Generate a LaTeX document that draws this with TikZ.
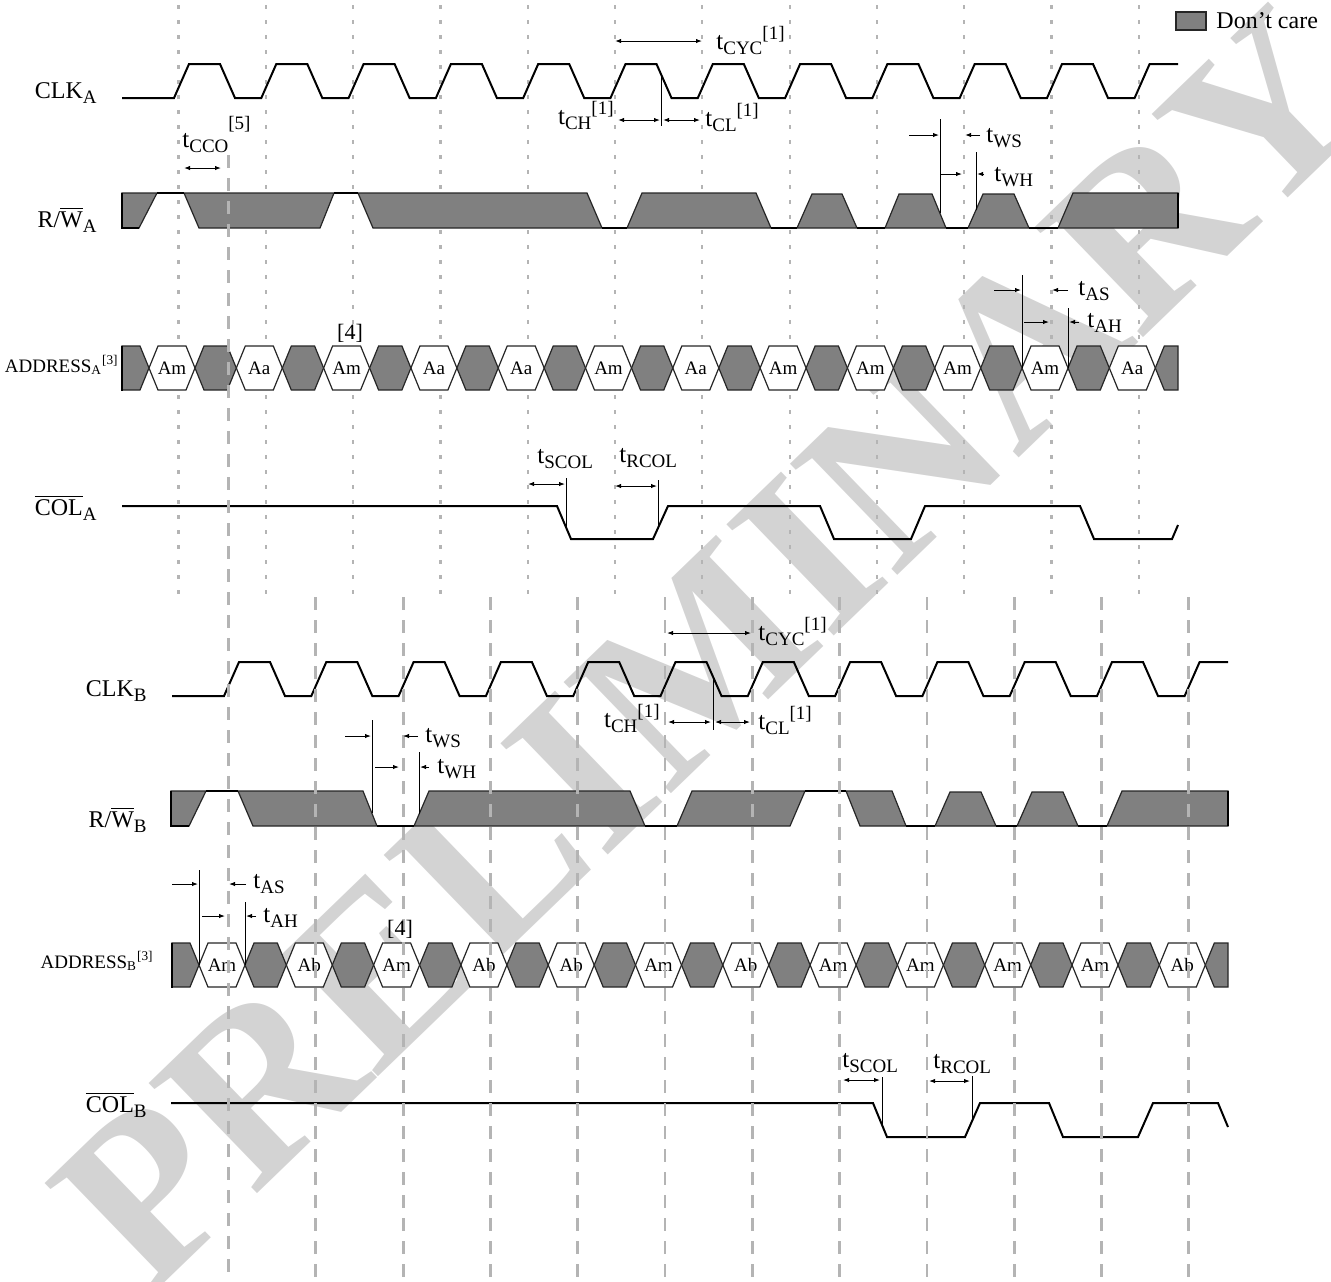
\documentclass[tikz,border=0pt]{standalone}
\usepackage{fontspec}
\setmainfont{Liberation Serif}
\usetikzlibrary{arrows.meta}
\definecolor{DCGray}{HTML}{808080}
\definecolor{GridGray}{HTML}{B4B4B4}
\definecolor{WMGray}{HTML}{D3D3D3}
\newcommand{\lsub}[1]{\raisebox{-0.5ex}{\fontsize{9.5}{10}\selectfont #1}}
\newcommand{\lsup}[1]{\raisebox{0.8ex}{\fontsize{9.5}{10}\selectfont #1}}
\newcommand{\tlab}[2]{t\lsub{#1}\lsup{#2}}

\begin{document}
\begin{tikzpicture}[
				x=0.5pt, y=-0.5pt,
				sig/.style={line width=1pt, line join=miter},
				dc/.style={fill=DCGray, draw=black!85, line width=0.6pt},
				hexa/.style={fill=white, draw=black!85, line width=0.6pt},
				refline/.style={line width=0.5pt},
				dim/.style={{Latex[length=3pt,width=2.2pt]}-{Latex[length=3pt,width=2.2pt]}, line width=0.5pt},
				toarr/.style={-{Latex[length=3pt,width=2.2pt]}, line width=0.5pt},
				dotgrid/.style={GridGray, line width=1.1pt, dash pattern=on 2pt off 5.5pt},
				dashgrid/.style={GridGray, line width=1.4pt, dash pattern=on 6.5pt off 5pt},
				siglabel/.style={anchor=base east, inner sep=0pt, font=\fontsize{12}{14}\selectfont},
				tlabel/.style={anchor=base west, inner sep=0pt, font=\fontsize{12.5}{14}\selectfont},
				hexlabel/.style={inner sep=0pt, font=\fontsize{9.5}{11}\selectfont}
				]
				\useasboundingbox (0,0) rectangle (1331,1281);
				% watermark
				\node[rotate=44, text=WMGray, inner sep=0pt, font=\fontsize{118}{118}\selectfont\bfseries] (wmark) at (710,648) {PRELIMINARY};
				% clock grid of port A
				\foreach \k in {0,...,11}
					\draw[dotgrid] ({178.5+87.3*\k},5) -- ({178.5+87.3*\k},597);
				% clocks
				\foreach \dx/\dy in {0/0, 50/598} {
					\begin{scope}[shift={(\dx,\dy)}]
						\draw[sig] (122,98) \foreach \k in {0,...,10} { -- ({174+87.3*\k},98) -- ({189+87.3*\k},64) -- ({220+87.3*\k},64) -- ({235+87.3*\k},98) } -- (1134.6,98) -- (1149.6,64) -- (1178,64);
					\end{scope}
				}
				% addresses
				\foreach \dx/\dy/\oth in {0/0/Aa, 50/597/Ab} {
					\begin{scope}[shift={(\dx,\dy)}]
						\draw[dc] (122,346) -- (140,346) -- (149,368) -- (140,390) -- (122,390) -- cycle;
						\draw[line width=1pt] (122,345.5) -- (122,390.5);
						\foreach \k/\lab in {0/Am,1/\oth,2/Am,3/\oth,4/\oth,5/Am,6/\oth,7/Am,8/Am,9/Am,10/Am,11/\oth} {
							\pgfmathsetmacro\xa{149+87.3*\k}
							\draw[hexa] (\xa,368) -- ++(9,-22) -- ++(28,0) -- ++(9,22) -- ++(-9,22) -- ++(-28,0) -- cycle;
							\node[hexlabel] (hex\oth\k) at ({\xa+23},368) {\lab};
						}
						\foreach \k in {0,...,10} {
							\pgfmathsetmacro\xb{195+87.3*\k}
							\draw[dc] (\xb,368) -- ++(9,-22) -- ++(23.3,0) -- ++(9,22) -- ++(-9,22) -- ++(-23.3,0) -- cycle;
						}
						\draw[dc] (1155.3,368) -- (1164.3,346) -- (1178,346) -- (1178,390) -- (1164.3,390) -- cycle;
					\end{scope}
				}
				% R/W A
				\draw[dc] (122,193) -- (157,193) -- (139,228) -- (122,228) -- cycle;
				\draw[dc] (184,193) -- (334,193) -- (320,228) -- (199,228) -- cycle;
				\draw[dc] (358,193) -- (587,193) -- (602,228) -- (373,228) -- cycle;
				\draw[dc] (627,228) -- (642,193) -- (756,193) -- (771,228) -- cycle;
				\draw[dc] (797,228) -- (812,194) -- (842,194) -- (857,228) -- cycle;
				\draw[dc] (885,228) -- (899,194) -- (932,194) -- (946,228) -- cycle;
				\draw[dc] (968,228) -- (983,194) -- (1014,194) -- (1029,228) -- cycle;
				\draw[dc] (1058,228) -- (1073,193) -- (1178,193) -- (1178,228) -- cycle;
				\draw[sig] (139,228) -- (122,228) -- (122,193);
				\draw[sig] (157,193) -- (184,193) (334,193) -- (358,193);
				\draw[sig] (602,228) -- (627,228) (771,228) -- (797,228) (857,228) -- (885,228) (946,228) -- (968,228) (1029,228) -- (1058,228);
				\draw[sig] (1178,193) -- (1178,228);
				% R/W B
				\draw[dc] (171,791) -- (206,791) -- (189,826) -- (171,826) -- cycle;
				\draw[dc] (238,791) -- (363,791) -- (377,826) -- (253,826) -- cycle;
				\draw[dc] (414,826) -- (429,791) -- (630,791) -- (645,826) -- cycle;
				\draw[dc] (677,826) -- (692,791) -- (805,791) -- (790,826) -- cycle;
				\draw[dc] (846,791) -- (892,791) -- (906,826) -- (860,826) -- cycle;
				\draw[dc] (935,826) -- (950,792) -- (981,792) -- (996,826) -- cycle;
				\draw[dc] (1017,826) -- (1032,792) -- (1063,792) -- (1078,826) -- cycle;
				\draw[dc] (1107,826) -- (1122,791) -- (1228,791) -- (1228,826) -- cycle;
				\draw[sig] (189,826) -- (171,826) -- (171,791);
				\draw[sig] (206,791) -- (238,791) (805,791) -- (846,791);
				\draw[sig] (377,826) -- (414,826) (645,826) -- (677,826) (906,826) -- (935,826) (996,826) -- (1017,826) (1078,826) -- (1107,826);
				\draw[sig] (1228,791) -- (1228,826);
				% COL
				\draw[sig] (122,506) -- (557,506) -- (571,539) -- (653,539) -- (668,506) -- (820,506) -- (834,539) -- (911,539) -- (925,506) -- (1080,506) -- (1094,539) -- (1172,539) -- (1178,525);
				\draw[sig] (171,1103) -- (873,1103) -- (887,1137) -- (965,1137) -- (980,1103) -- (1049,1103) -- (1063,1137) -- (1138,1137) -- (1153,1103) -- (1218,1103) -- (1228,1127);
				% clock grid of port B
				\draw[dashgrid] (228.5,155) -- (228.5,1281);
				\foreach \k in {1,...,11}
					\draw[dashgrid] ({228.5+87.3*\k},597) -- ({228.5+87.3*\k},1281);
				% signal names
				\node[siglabel] (clkA) at (97,98) {CLK\lsub{A}};
				\node[siglabel] (rwA) at (97,227) {R/$\overline{\mbox{W}}$\lsub{A}};
				\node[siglabel, font=\fontsize{9.5}{11}\selectfont] (addrA) at (119,372) {ADDRESS\textsubscript{A}\textsuperscript{[3]}};
				\node[siglabel] (colA) at (97,515) {$\overline{\mbox{COL}}$\lsub{A}};
				\node[siglabel] (clkB) at (147,696) {CLK\lsub{B}};
				\node[siglabel] (rwB) at (147,827) {R/$\overline{\mbox{W}}$\lsub{B}};
				\node[siglabel, font=\fontsize{9.5}{11}\selectfont] (addrB) at (154,968) {ADDRESS\textsubscript{B}\textsuperscript{[3]}};
				\node[siglabel] (colB) at (147,1112) {$\overline{\mbox{COL}}$\lsub{B}};
				\node[font=\fontsize{11}{12}\selectfont] (noteA) at (350,333) {[4]};
				\node[font=\fontsize{11}{12}\selectfont] (noteB) at (400,929) {[4]};
				% legend
				\draw[dc] (1176,12) rectangle (1206,30);
				\node[tlabel, font=\fontsize{12}{14}\selectfont] (dontcare) at (1216,28) {Don't care};
				% timing of port A
				\draw[dim] (615,41) -- (702,41);
				\node[tlabel] (cycA) at (716,49) {\tlab{CYC}{[1]}};
				\draw[refline] (661,75) -- (661,126);
				\draw[dim] (618,120) -- (660,120);
				\draw[dim] (663,120) -- (700,120);
				\node[tlabel, anchor=base east] (chA) at (614,124) {\tlab{CH}{[1]}};
				\node[tlabel] (clA) at (705,126) {\tlab{CL}{[1]}};
				\draw[dim] (184,168) -- (221,168);
				\node[tlabel] (ccoA) at (182,147) {t\lsub{CCO}\raisebox{1.5ex}{\fontsize{9.5}{10}\selectfont [5]}};
				\draw[refline] (940,119) -- (940,213);
				\draw[refline] (976,152) -- (976,210);
				\draw[toarr] (909,135) -- (939,135);
				\draw[toarr] (980,135) -- (965,135);
				\draw[toarr] (941,174) -- (962,174);
				\draw[toarr] (984,174) -- (977,174);
				\node[tlabel] (wsA) at (986,142) {t\lsub{WS}};
				\node[tlabel] (whA) at (994,181) {t\lsub{WH}};
				\draw[refline] (1022,275) -- (1022,368);
				\draw[refline] (1068,308) -- (1068,368);
				\draw[toarr] (994,290) -- (1021,290);
				\draw[toarr] (1068,290) -- (1052,290);
				\draw[toarr] (1024,322) -- (1049,322);
				\draw[toarr] (1079,322) -- (1069,322);
				\node[tlabel] (asA) at (1078,295) {t\lsub{AS}};
				\node[tlabel] (ahA) at (1087,327) {t\lsub{AH}};
				\draw[refline] (566,478) -- (566,527);
				\draw[refline] (658,480) -- (658,528);
				\draw[dim] (528,484) -- (565,484);
				\draw[dim] (615,486) -- (657,486);
				\node[tlabel] (scolA) at (537,463) {t\lsub{SCOL}};
				\node[tlabel] (rcolA) at (619,462) {t\lsub{RCOL}};
				% timing of port B
				\draw[dim] (667,633) -- (751,633);
				\node[tlabel] (cycB) at (758,640) {\tlab{CYC}{[1]}};
				\draw[refline] (713,677) -- (713,730);
				\draw[dim] (668,722) -- (711,722);
				\draw[dim] (715,722) -- (750,722);
				\node[tlabel, anchor=base east] (chB) at (660,727) {\tlab{CH}{[1]}};
				\node[tlabel] (clB) at (758,729) {\tlab{CL}{[1]}};
				\draw[refline] (372,720) -- (372,813);
				\draw[refline] (419,752) -- (419,814);
				\draw[toarr] (345,736) -- (371,736);
				\draw[toarr] (418,736) -- (403,736);
				\draw[toarr] (375,767) -- (399,767);
				\draw[toarr] (429,767) -- (420,767);
				\node[tlabel] (wsB) at (425,742) {t\lsub{WS}};
				\node[tlabel] (whB) at (437,773) {t\lsub{WH}};
				\draw[refline] (199,870) -- (199,965);
				\draw[refline] (245,902) -- (245,965);
				\draw[toarr] (172,884) -- (198,884);
				\draw[toarr] (246,884) -- (229,884);
				\draw[toarr] (202,916) -- (225,916);
				\draw[toarr] (256,916) -- (246,916);
				\node[tlabel] (asB) at (253,888) {t\lsub{AS}};
				\node[tlabel] (ahB) at (263,922) {t\lsub{AH}};
				\draw[refline] (882,1077) -- (882,1125);
				\draw[refline] (972,1076) -- (972,1121);
				\draw[dim] (843,1080) -- (880,1080);
				\draw[dim] (929,1081) -- (970,1081);
				\node[tlabel] (scolB) at (842,1067) {t\lsub{SCOL}};
				\node[tlabel] (rcolB) at (933,1068) {t\lsub{RCOL}};
			\end{tikzpicture}
\end{document}
